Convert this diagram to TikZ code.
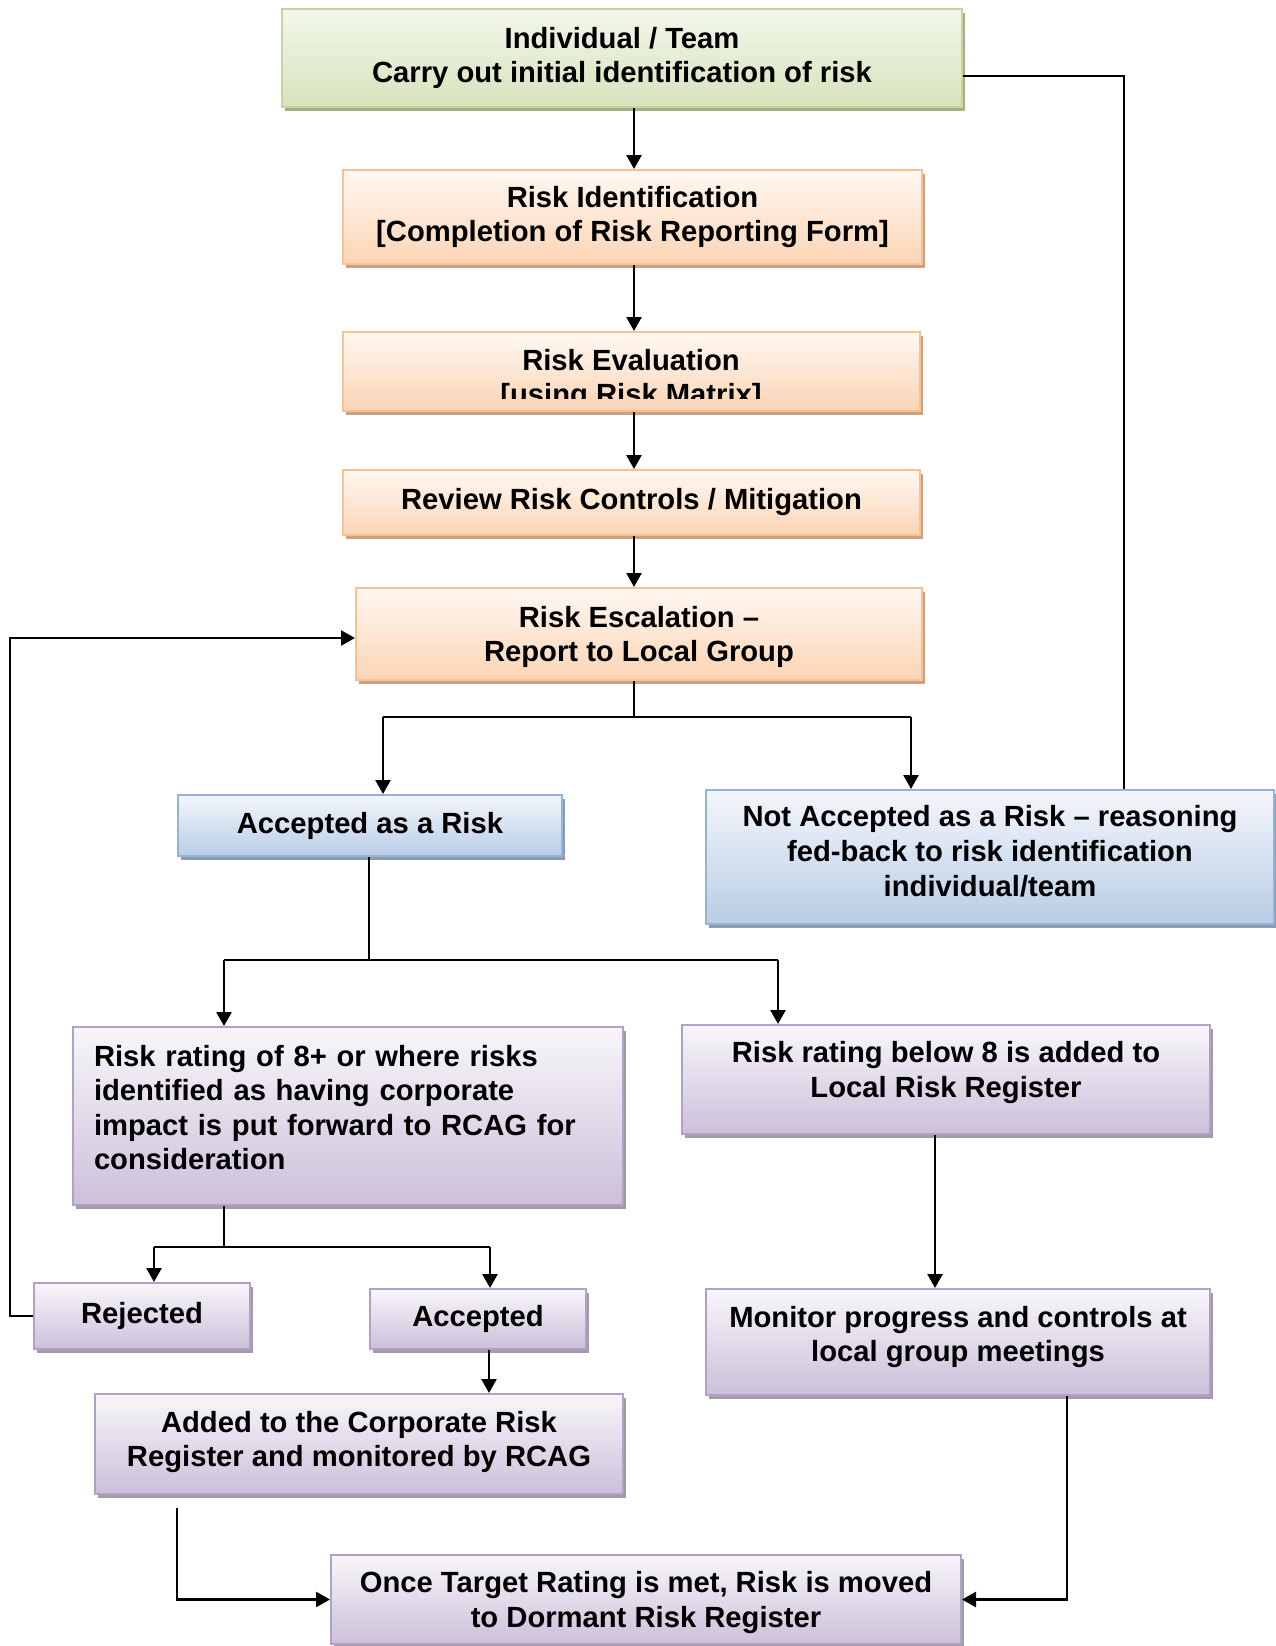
\documentclass[tikz,border=0pt]{standalone}
\usepackage{fontspec}
\setmainfont{Liberation Sans}
\usetikzlibrary{arrows.meta,shadows}
\definecolor{gTop}{HTML}{F3F7EB}\definecolor{gBot}{HTML}{D6E3BC}\definecolor{gBd}{HTML}{C3D69B}\definecolor{gSh}{HTML}{A7AE8E}
\definecolor{oTop}{HTML}{FFF8F2}\definecolor{oBot}{HTML}{FBD4B4}\definecolor{oBd}{HTML}{FAC090}\definecolor{oSh}{HTML}{C9A285}
\definecolor{bTop}{HTML}{F3F6FB}\definecolor{bBot}{HTML}{B9CDE5}\definecolor{bBd}{HTML}{95B3D7}\definecolor{bSh}{HTML}{8D9BB0}
\definecolor{pTop}{HTML}{F8F6FA}\definecolor{pBot}{HTML}{CCC0DA}\definecolor{pBd}{HTML}{B2A1C7}\definecolor{pSh}{HTML}{A39BAC}
\begin{document}
\begin{tikzpicture}[x=0.5pt,y=-0.5pt,
  txt/.style={inner sep=0pt, align=center, font=\fontsize{14.6}{17.3}\selectfont\bfseries},
  box/.style={txt, draw, line width=1pt},
  gbox/.style={box, draw=gBd, top color=gTop, bottom color=gBot, drop shadow={shadow xshift=1.6pt, shadow yshift=-2pt, fill=gSh, opacity=1}},
  obox/.style={box, draw=oBd, top color=oTop, bottom color=oBot, drop shadow={shadow xshift=1.6pt, shadow yshift=-2pt, fill=oSh, opacity=1}},
  bbox/.style={box, draw=bBd, top color=bTop, bottom color=bBot, drop shadow={shadow xshift=1.6pt, shadow yshift=-2pt, fill=bSh, opacity=1}},
  pbox/.style={box, draw=pBd, top color=pTop, bottom color=pBot, drop shadow={shadow xshift=1.6pt, shadow yshift=-2pt, fill=pSh, opacity=1}},
  conn/.style={line width=1.3pt},
  arr/.style={conn, -{Triangle[length=7pt,width=7.5pt]}}]
\useasboundingbox[fill=white] (0,0) rectangle (1276,1646);

% boxes
\node[gbox, minimum width=340pt, minimum height=49pt] (green) at (622,58) {Individual / Team\\Carry out initial identification of risk};
\node[obox, minimum width=289.5pt, minimum height=47pt] (rid) at (632.5,217) {Risk Identification\\{[}Completion of Risk Reporting Form]};
\node[obox, minimum width=288.5pt, minimum height=39.5pt] (reval) at (631.5,371.5) {};
\node[obox, minimum width=288.5pt, minimum height=32.5pt] (review) at (631.5,502.5) {Review Risk Controls / Mitigation};
\node[obox, minimum width=283pt, minimum height=46pt, text depth=0pt] (esc) at (639,634) {Risk Escalation –\\Report to Local Group};
\node[bbox, minimum width=192pt, minimum height=30.5pt] (acc) at (370,825.5) {Accepted as a Risk};
\node[bbox, minimum width=284pt, minimum height=67pt, text depth=6pt] (notacc) at (990,857) {Not Accepted as a Risk – reasoning\\fed-back to risk identification\\individual/team};
\node[pbox, minimum width=275pt, minimum height=89pt, align=left, text width=254pt, text depth=60.5pt] (r8) at (348,1116) {Risk rating of 8+ or where risks\\identified as having corporate\\impact is put forward to RCAG for\\consideration};
\node[pbox, minimum width=264pt, minimum height=54.5pt, text depth=10pt] (rb8) at (946,1079.5) {Risk rating below 8 is added to\\Local Risk Register};
\node[pbox, minimum width=108pt, minimum height=33pt] (rej) at (142,1316) {Rejected};
\node[pbox, minimum width=108pt, minimum height=30pt] (accd) at (478,1319) {Accepted};
\node[pbox, minimum width=252pt, minimum height=53pt, text depth=8pt] (mon) at (958,1342) {Monitor progress and controls at\\local group meetings};
\node[pbox, minimum width=264pt, minimum height=50pt, text depth=5pt] (add) at (359,1444) {Added to the Corporate Risk\\Register and monitored by RCAG};
\node[pbox, minimum width=315pt, minimum height=44.5pt, text depth=0pt] (once) at (646,1599.5) {Once Target Rating is met, Risk is moved\\to Dormant Risk Register};

% clipped text of the evaluation box
\coordinate (clipc) at (920,398);
\begin{scope}
\clip (reval.north west) rectangle (clipc);
\node[txt] (revaltxt) at (631,380) {Risk Evaluation\\{[}using Risk Matrix]};
\end{scope}

% coordinates
\coordinate (cx) at (634,0);
\coordinate (j1) at (634,717);
\coordinate (j1l) at (383,717);
\coordinate (j1r) at (911,717);
\coordinate (fb) at (1124,76);
\coordinate (j2) at (369,960);
\coordinate (j2l) at (224,960);
\coordinate (j2r) at (778,960);
\coordinate (j3) at (224,1247);
\coordinate (j3l) at (154,1247);
\coordinate (j3r) at (490,1247);
\coordinate (lp) at (10,1316);
\coordinate (lp2) at (10,638);
\coordinate (cx2) at (489,0);
\coordinate (cx3) at (935,0);
\coordinate (s1) at (177,1508);
\coordinate (cx4) at (1067,0);

% connectors
\draw[arr] (green.south -| cx) -- (rid.north -| cx);
\draw[arr] (rid.south -| cx) -- (reval.north -| cx);
\draw[arr] (reval.south -| cx) -- (review.north -| cx);
\draw[arr] (review.south -| cx) -- (esc.north -| cx);
\draw[conn] (esc.south -| j1) -- (j1);
\draw[conn] (j1l) -- (j1r);
\draw[arr] (j1l) -- (acc.north -| j1l);
\draw[arr] (j1r) -- (notacc.north -| j1r);
\draw[conn] (notacc.north -| fb) -- (fb) -- (green.east |- fb);
\draw[conn] (acc.south -| j2) -- (j2);
\draw[conn] (j2l) -- (j2r);
\draw[arr] (j2l) -- (r8.north -| j2l);
\draw[arr] (j2r) -- (rb8.north -| j2r);
\draw[conn] (r8.south -| j3) -- (j3);
\draw[conn] (j3l) -- (j3r);
\draw[arr] (j3l) -- (rej.north -| j3l);
\draw[arr] (j3r) -- (accd.north -| j3r);
\draw[arr] (rej.west) -- (lp) -- (lp2) -- (esc.west |- lp2);
\draw[arr] (accd.south -| cx2) -- (add.north -| cx2);
\draw[arr] (rb8.south -| cx3) -- (mon.north -| cx3);
\draw[arr] (s1) |- (once.west);
\draw[arr] (mon.south -| cx4) |- (once.east);
\end{tikzpicture}
\end{document}
